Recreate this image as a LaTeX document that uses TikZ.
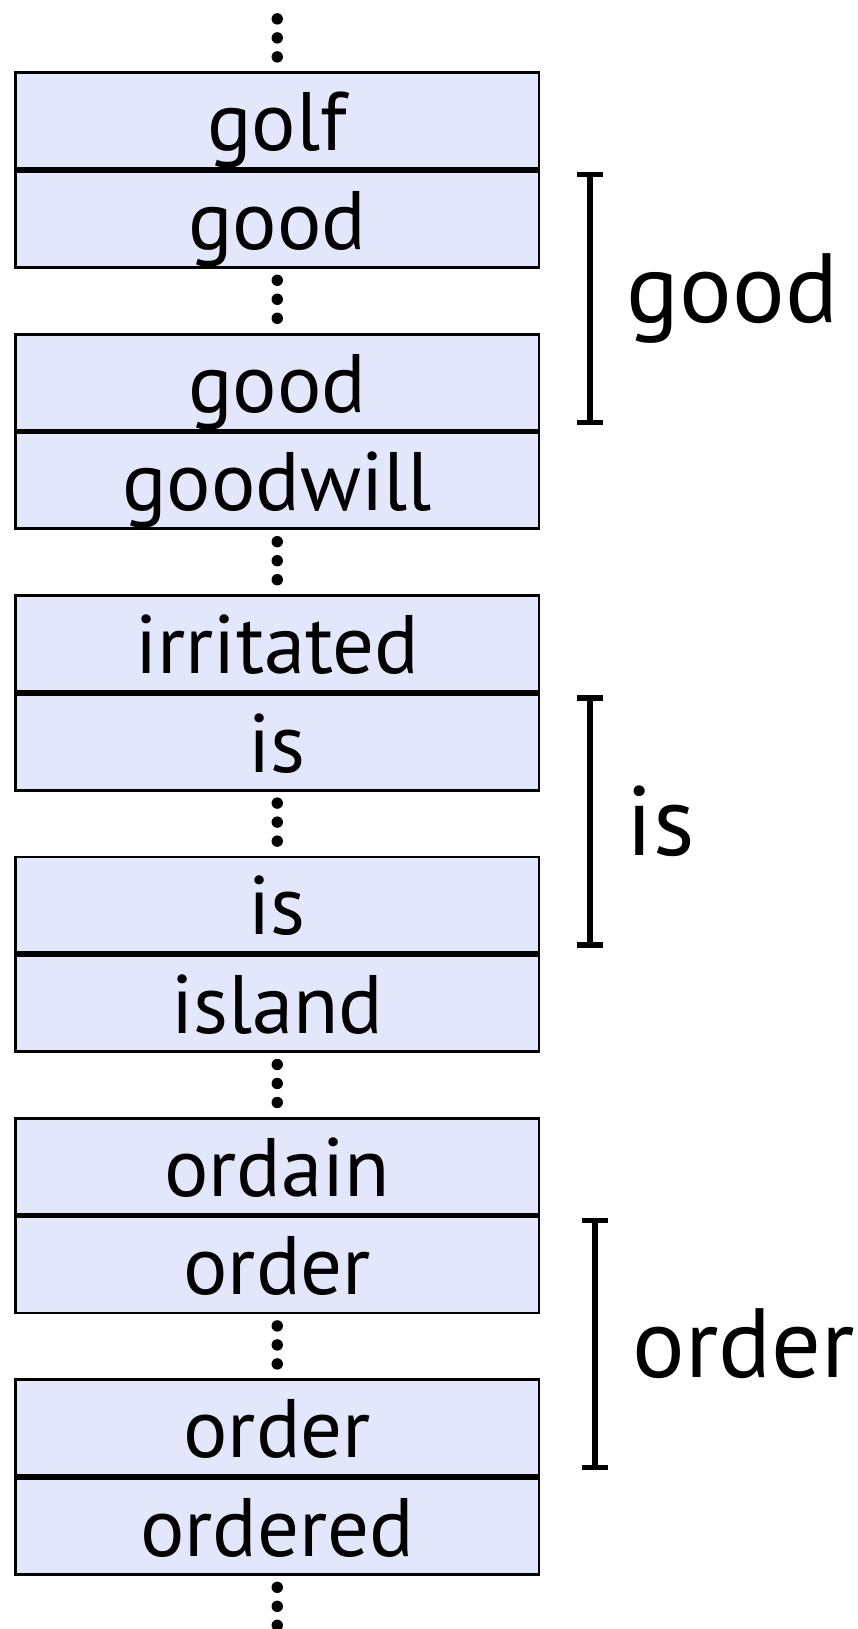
\documentclass[tikz,border=0pt]{standalone}
\usepackage{fontspec}
\setmainfont{PT Sans}
\usetikzlibrary{positioning,arrows.meta}
\definecolor{boxfill}{RGB}{226,231,251}
\tikzset{
  wordbox/.style={draw, line width=0.8pt, fill=boxfill, minimum width=5.235cm,
    minimum height=0.959cm, inner sep=0pt, text height=0.66cm, text depth=0.06cm,
    font=\fontsize{23.6}{26}\selectfont},
  brace/.style={line width=1.6pt, {Bar[width=0.26cm]}-{Bar[width=0.26cm]}},
  bracelabel/.style={anchor=west, inner sep=0pt, font=\fontsize{28}{32}\selectfont},
}
\begin{document}
\begin{tikzpicture}
      \useasboundingbox (0,0) rectangle (8.57,-16.29);
      % the runs of words
      \node[wordbox] (golf) at (2.7725,-1.2065) {golf};
      \node[wordbox, below=0pt of golf] (good1) {good};
      \node[wordbox] (good2) at (2.7725,-3.8205) {good};
      \node[wordbox, below=0pt of good2] (goodwill) {goodwill};
      \node[wordbox] (irritated) at (2.7725,-6.4345) {irritated};
      \node[wordbox, below=0pt of irritated] (is1) {is};
      \node[wordbox] (is2) at (2.7725,-9.0485) {is};
      \node[wordbox, below=0pt of is2] (island) {island};
      \node[wordbox] (ordain) at (2.7725,-11.6625) {ordain};
      \node[wordbox, below=0pt of ordain] (order1) {order};
      \node[wordbox] (order2) at (2.7725,-14.2765) {order};
      \node[wordbox, below=0pt of order2] (ordered) {ordered};
      % gaps
      \foreach \y in {-0.379,-2.993,-5.607,-8.221,-10.835,-13.449,-16.063}
        \foreach \d in {-0.19,0,0.19}
          \fill (2.7725,\y+\d) circle (0.057);
      % brackets
      \coordinate (goodtop) at (5.90,-1.716);
      \coordinate (goodbot) at (5.90,-4.254);
      \coordinate (istop) at (5.90,-6.952);
      \coordinate (isbot) at (5.90,-9.479);
      \coordinate (ordertop) at (5.95,-12.177);
      \coordinate (orderbot) at (5.95,-14.704);
      \draw[brace] (goodtop) -- (goodbot);
      \draw[brace] (istop) -- (isbot);
      \draw[brace] (ordertop) -- (orderbot);
      \node[bracelabel] (goodlabel) at (6.26,-2.985) {good};
      \node[bracelabel] (islabel) at (6.26,-8.215) {is};
      \node[bracelabel] (orderlabel) at (6.32,-13.44) {order};
    \end{tikzpicture}
\end{document}
